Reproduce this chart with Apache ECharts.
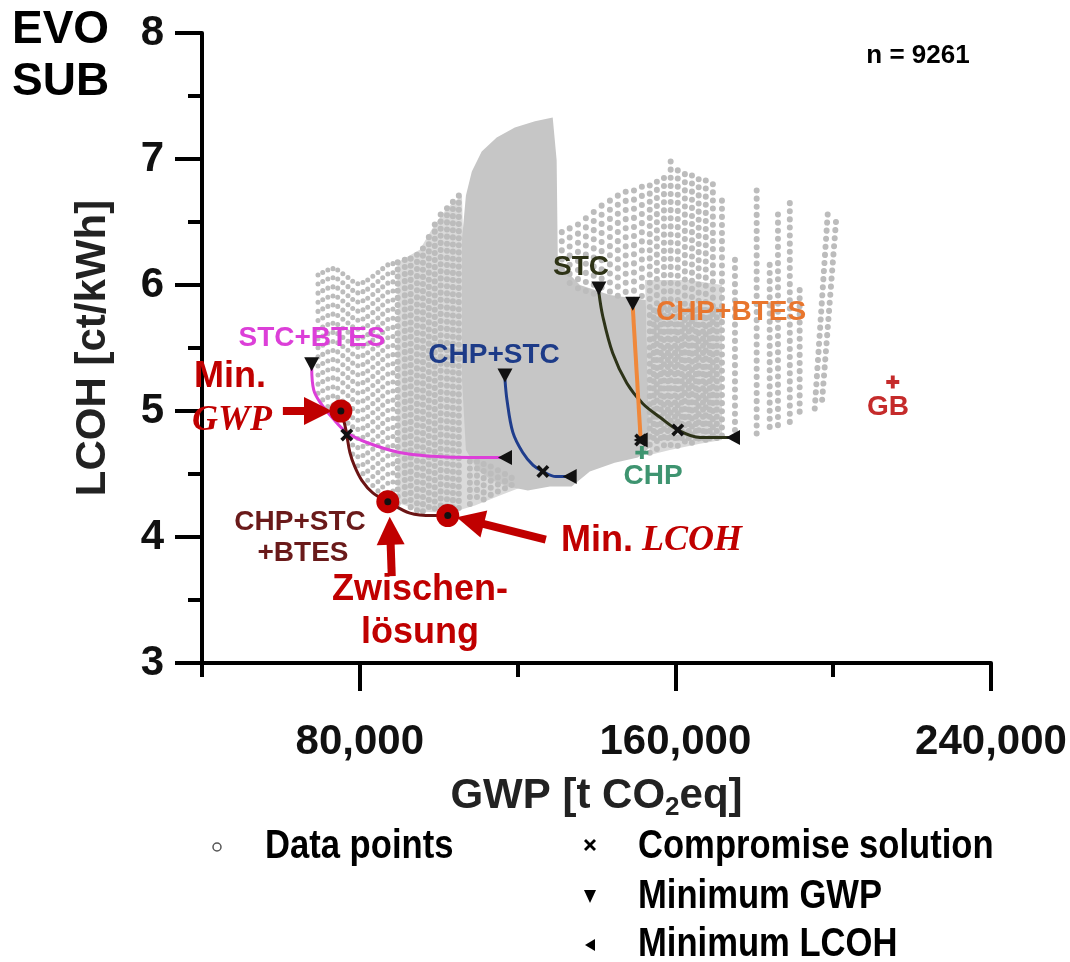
<!DOCTYPE html>
<html>
<head>
<meta charset="utf-8">
<script src="https://cdn.jsdelivr.net/npm/echarts@6/dist/echarts.min.js"></script>
<style>
  html, body { margin: 0; padding: 0; background: #fff; }
  #chart { width: 1070px; height: 962px; }
</style>
</head>
<body>
<div id="chart"></div>
<script>
// Pareto fronts, [GWP t CO2eq, LCOH ct/kWh]
const frontStcBtes = [[67800, 5.34], [68300, 5.17], [69900, 5.07], [73200, 4.94], [76700, 4.83], [81800, 4.75], [90100, 4.67], [98500, 4.64], [107900, 4.63], [116800, 4.63]];
const frontChpStcBtes = [[75200, 5.00], [76200, 4.89], [76700, 4.81], [77500, 4.67], [78700, 4.56], [80500, 4.45], [83300, 4.35], [87100, 4.28], [92700, 4.19], [98500, 4.17], [102300, 4.17]];
const frontChpStc = [[116800, 5.25], [117300, 5.09], [118800, 4.83], [121300, 4.67], [123900, 4.57], [126400, 4.52], [129700, 4.48], [133200, 4.48]];
const frontStc = [[140600, 5.94], [141600, 5.75], [144100, 5.46], [147700, 5.22], [151700, 5.06], [156100, 4.95], [160600, 4.85], [166200, 4.79], [174600, 4.79]];
const frontChpBtes = [[149200, 5.82], [151200, 4.77]];

// marked solutions
const minGwpPts = [[67800, 5.34], [116800, 5.25], [140600, 5.94], [149200, 5.82]];
const minLcohPts = [[116800, 4.63], [133200, 4.48], [174600, 4.79], [151200, 4.77]];
const compromisePts = [[76700, 4.81], [126400, 4.52], [160600, 4.85], [151200, 4.77]];
const highlightPts = [[75200, 5.00], [87100, 4.28], [102300, 4.17]]; // Min GWP, Zwischenlösung, Min LCOH
const chpRef = [[151500, 4.67]];
const gbRef = [[215100, 5.23]];

// arrows (tail, head)
const arrows = [
  [[60500, 5.00], [69400, 5.00]],
  [[88100, 3.69], [87700, 4.05]],
  [[127150, 3.98], [108000, 4.13]]
];

// cloud of data points: dense / medium areas and strands of single points
const cloudCore = [[105900, 6.36], [106900, 6.71], [108400, 6.90], [110900, 7.06], [114700, 7.17], [119300, 7.25], [124400, 7.30], [128900, 7.33], [129900, 6.99], [130200, 6.18], [135800, 6.00], [143400, 5.92], [152500, 5.88], [153000, 5.25], [153500, 4.71], [150500, 4.63], [144600, 4.59], [138300, 4.52], [133700, 4.40], [128200, 4.40], [122600, 4.37], [117500, 4.40], [113500, 4.45], [109900, 4.53], [106900, 4.69], [105900, 5.25]];
const cloudMediumLeft = [[89600, 6.18], [95200, 6.28], [99000, 6.48], [102100, 6.61], [105900, 6.71], [106600, 5.88], [107900, 4.61], [115500, 4.47], [120600, 4.39], [115500, 4.33], [109200, 4.25], [102800, 4.19], [96500, 4.20], [89600, 4.27]];
const cloudMediumRight = [[152300, 6.04], [156000, 6.04], [163700, 6.04], [171800, 6.00], [171800, 4.77], [166200, 4.74], [158600, 4.69], [153500, 4.65]];
const cloudLeft = [
  [[69400, 6.08], [69400, 5.13]], [[70600, 6.10], [70600, 5.05]], [[71900, 6.12], [71900, 5.01]],
  [[73200, 6.13], [73200, 4.96]], [[74400, 6.12], [74400, 4.94]], [[75700, 6.09], [75700, 4.89]],
  [[77000, 6.06], [77000, 4.79]], [[78200, 6.03], [78200, 4.61]], [[79500, 6.01], [79500, 4.53]],
  [[80800, 6.02], [80800, 4.46]], [[82000, 6.04], [82000, 4.41]], [[83300, 6.07], [83300, 4.37]],
  [[84600, 6.10], [84600, 4.35]], [[85800, 6.13], [85800, 4.32]], [[87100, 6.16], [87100, 4.31]],
  [[88400, 6.17], [88400, 4.28]]
];
const cloudMid = [
  [[89600, 6.18], [89600, 4.26]], [[91400, 6.20], [91400, 4.24]], [[92900, 6.21], [92900, 4.22]],
  [[94500, 6.24], [94500, 4.21]], [[96000, 6.29], [96000, 4.20]], [[97500, 6.38], [97500, 4.19]],
  [[99000, 6.48], [99000, 4.18]], [[100500, 6.56], [100500, 4.18]], [[102100, 6.61], [102100, 4.18]],
  [[103600, 6.66], [103600, 4.19]], [[105100, 6.71], [105100, 4.21]]
];
const cloudLow = [
  [[107900, 4.60], [107900, 4.25]], [[109700, 4.60], [109700, 4.27]], [[111400, 4.58], [111400, 4.29]],
  [[113200, 4.56], [113200, 4.31]], [[115000, 4.53], [115000, 4.33]], [[116800, 4.50], [116800, 4.35]],
  [[118500, 4.47], [118500, 4.37]]
];
const cloudTop = [
  [[131200, 6.42], [131200, 6.08]], [[133200, 6.45], [133200, 6.00]], [[135300, 6.48], [135300, 5.96]],
  [[137300, 6.53], [137300, 5.94]], [[139300, 6.58], [139300, 5.93]], [[141300, 6.63], [141300, 5.91]],
  [[143400, 6.67], [143400, 5.90]], [[145400, 6.71], [145400, 5.90]], [[147400, 6.74], [147400, 5.89]],
  [[149500, 6.75], [149500, 5.88]], [[151500, 6.78], [151500, 5.88]]
];
const cloudRight = [
  [[153500, 6.79], [153500, 4.65]], [[155300, 6.82], [155300, 4.67]], [[157100, 6.85], [157100, 4.69]],
  [[158800, 6.98], [158800, 4.71]], [[160600, 6.91], [160600, 4.71]], [[162400, 6.88], [162400, 4.72]],
  [[164200, 6.87], [164200, 4.73]], [[165900, 6.84], [165900, 4.74]], [[167700, 6.83], [167700, 4.75]],
  [[169500, 6.80], [169500, 4.75]], [[171800, 6.67], [171800, 4.77]], [[175100, 6.20], [175100, 4.79]],
  [[180600, 6.75], [180600, 4.82]], [[183900, 6.16], [183900, 4.85]], [[186000, 6.56], [186000, 4.87]],
  [[189000, 6.65], [189000, 4.90]], [[191500, 5.96], [191500, 4.94]], [[198600, 6.56], [195300, 5.01]],
  [[200700, 6.50], [197100, 5.05]]
];
const cloudRightFill = [
  [[154500, 5.80], [154500, 4.77]], [[156300, 5.80], [156300, 4.77]], [[158100, 5.80], [158100, 4.77]],
  [[159900, 5.80], [159900, 4.77]], [[161600, 5.80], [161600, 4.77]], [[163400, 5.80], [163400, 4.77]],
  [[165200, 5.80], [165200, 4.77]], [[167000, 5.80], [167000, 4.77]], [[168700, 5.80], [168700, 4.77]],
  [[170500, 5.80], [170500, 4.77]]
];

const xTicksMajor = [80000, 160000, 240000];
const xTicksMinor = [40000, 120000, 200000];

const SANS = '"Liberation Sans", Arial, sans-serif';
const SERIF = '"Liberation Serif", "Times New Roman", serif';
const RED = '#c00000';
const DOT = '#bcbcbc';

const chart = echarts.init(document.getElementById('chart'));

function dotted(strands, gap, width) {
  return {
    type: 'lines', coordinateSystem: 'cartesian2d', polyline: true, silent: true, z: 2,
    data: strands.map(s => ({ coords: s })),
    lineStyle: { color: DOT, width: width || 6, type: [0.1, gap], cap: 'round', opacity: 1 }
  };
}

function area(points, fill) {
  return {
    type: 'custom', silent: true, z: 1, data: points,
    renderItem: function (params, api) {
      if (params.dataIndex !== 0) return null;
      return {
        type: 'polygon',
        shape: { points: points.map(p => api.coord(p)) },
        style: { fill: fill }
      };
    }
  };
}

function front(data, color, width) {
  return {
    type: 'line', data: data, smooth: 0.35, showSymbol: false, silent: true, z: 5,
    lineStyle: { color: color, width: width }
  };
}

function marks(data, symbol, size, color, extra) {
  return Object.assign({
    type: 'scatter', data: data, symbol: symbol, symbolSize: size, silent: true, z: 7,
    itemStyle: { color: color, opacity: 1 }
  }, extra || {});
}

function txt(text, x, y, color, font, align, sx) {
  return {
    type: 'text', x: x, y: y, z: 100, silent: true, scaleX: sx || 1,
    style: { text: text, fill: color, font: font, align: align || 'center', verticalAlign: 'middle' }
  };
}

const crossPath = 'path://M0,2L2,0L5,3L8,0L10,2L7,5L10,8L8,10L5,7L2,10L0,8L3,5Z';
const plusPath = 'path://M3.5,0H6.5V3.5H10V6.5H6.5V10H3.5V6.5H0V3.5H3.5Z';
const LEG = 'bold 40px ' + SANS;
const LEG_SX = 0.865;

const option = {
  animation: false,
  backgroundColor: '#fff',
  grid: { left: 202, right: 79, top: 33, bottom: 299 },
  xAxis: [{
    type: 'value', min: 40000, max: 240000, interval: 40000,
    name: '{a|GWP [t CO}{b|2}{a|eq]}', nameLocation: 'middle', nameGap: 108,
    nameTextStyle: {
      rich: {
        a: { fontFamily: SANS, fontWeight: 'bold', fontSize: 42, color: '#222', lineHeight: 50 },
        b: { fontFamily: SANS, fontWeight: 'bold', fontSize: 26, color: '#222', lineHeight: 26, verticalAlign: 'bottom' }
      }
    },
    splitLine: { show: false },
    axisLine: { lineStyle: { color: '#000', width: 4 } },
    axisTick: { customValues: xTicksMinor, length: 14, lineStyle: { color: '#000', width: 4 } },
    axisLabel: {
      customValues: xTicksMajor, margin: 58, color: '#111',
      fontFamily: SANS, fontWeight: 'bold', fontSize: 42,
      formatter: v => v.toLocaleString('en-US')
    }
  }, {
    type: 'value', min: 40000, max: 240000, interval: 40000, position: 'bottom', offset: 0,
    splitLine: { show: false },
    axisLine: { show: false },
    axisLabel: { show: false },
    axisTick: { customValues: xTicksMajor, length: 28, lineStyle: { color: '#000', width: 4 } }
  }],
  yAxis: {
    type: 'value', min: 3, max: 8, interval: 1,
    name: 'LCOH [ct/kWh]', nameLocation: 'middle', nameGap: 88, nameRotate: 90,
    nameTextStyle: { fontFamily: SANS, fontWeight: 'bold', fontSize: 42, color: '#222' },
    splitLine: { show: false },
    axisLine: { show: true, lineStyle: { color: '#000', width: 4 } },
    axisTick: { show: true, length: 27, lineStyle: { color: '#000', width: 4 } },
    minorTick: { show: true, splitNumber: 2, length: 14, lineStyle: { color: '#000', width: 4 } },
    axisLabel: { margin: 38, color: '#111', fontFamily: SANS, fontWeight: 'bold', fontSize: 42 }
  },
  series: [
    area(cloudMediumLeft, '#dadada'),
    area(cloudMediumRight, '#d9d9d9'),
    area(cloudCore, '#c6c6c6'),
    dotted(cloudLeft, 9, 5),
    dotted(cloudMid, 7),
    dotted(cloudLow, 7),
    dotted(cloudTop, 9),
    dotted(cloudRight, 8),
    dotted(cloudRightFill, 7),
    front(frontStcBtes, '#dc3fd8', 3),
    front(frontChpStcBtes, '#6b1414', 3),
    front(frontChpStc, '#1f3d8c', 3),
    front(frontStc, '#2d3318', 3),
    front(frontChpBtes, '#f0883a', 4),
    marks(minGwpPts, 'triangle', [15, 14], '#111', { symbolRotate: 180, symbolOffset: [0, -4] }),
    marks(minLcohPts, 'triangle', [15, 14], '#111', { symbolRotate: 90 }),
    marks(compromisePts, crossPath, 13, '#111'),
    marks(chpRef, plusPath, 13, '#3e9470'),
    marks(gbRef, plusPath, 13, '#c52b2b'),
    {
      type: 'lines', coordinateSystem: 'cartesian2d', silent: true, z: 8,
      data: arrows.map(a => ({ coords: a })),
      symbol: ['none', 'triangle'], symbolSize: [26, 28],
      lineStyle: { color: RED, width: 8, opacity: 1 },
      itemStyle: { color: RED }
    },
    marks(highlightPts, 'circle', 23, RED, { z: 9 }),
    marks(highlightPts, 'circle', 7, '#111', { z: 10 })
  ],
  graphic: [
    txt('EVO', 12, 30, '#000', 'bold 46px ' + SANS, 'left'),
    txt('SUB', 12, 82, '#000', 'bold 46px ' + SANS, 'left'),
    txt('n = 9261', 918, 56, '#000', 'bold 26px ' + SANS),
    txt('STC+BTES', 312, 338, '#dc3fd8', 'bold 28px ' + SANS),
    txt('CHP+STC', 494, 355, '#1d3b88', 'bold 28px ' + SANS),
    txt('STC', 581, 267, '#2e3316', 'bold 28px ' + SANS),
    txt('CHP+BTES', 731, 312, '#e8762e', 'bold 28px ' + SANS),
    txt('CHP', 653, 476, '#3e9470', 'bold 28px ' + SANS),
    txt('GB', 888, 407, '#c52b2b', 'bold 28px ' + SANS),
    txt('CHP+STC', 300, 522, '#6a1a1a', 'bold 28px ' + SANS),
    txt('+BTES', 303, 553, '#6a1a1a', 'bold 28px ' + SANS),
    txt('Min.', 230, 377, RED, 'bold 36px ' + SANS),
    txt('GWP', 232, 421, RED, 'italic bold 36px ' + SERIF),
    txt('Min.', 597, 541, RED, 'bold 36px ' + SANS),
    txt('LCOH', 692, 541, RED, 'italic bold 36px ' + SERIF),
    txt('Zwischen-', 420, 590, RED, 'bold 36px ' + SANS),
    txt('lösung', 420, 633, RED, 'bold 36px ' + SANS),
    { type: 'circle', z: 100, silent: true, shape: { cx: 217, cy: 847, r: 4 }, style: { fill: '#fff', stroke: '#555', lineWidth: 1.5 } },
    txt('Data points', 265, 847, '#000', LEG, 'left', LEG_SX),
    { type: 'polygon', z: 100, silent: true, shape: { points: [[584, 841], [586, 839], [590, 843], [594, 839], [596, 841], [592, 845], [596, 849], [594, 851], [590, 847], [586, 851], [584, 849], [588, 845]] }, style: { fill: '#000' } },
    txt('Compromise solution', 638, 847, '#000', LEG, 'left', LEG_SX),
    { type: 'polygon', z: 100, silent: true, shape: { points: [[584, 890], [596, 890], [590, 903]] }, style: { fill: '#000' } },
    txt('Minimum GWP', 638, 897, '#000', LEG, 'left', LEG_SX),
    { type: 'polygon', z: 100, silent: true, shape: { points: [[595, 939], [595, 951], [585, 945]] }, style: { fill: '#000' } },
    txt('Minimum LCOH', 638, 945, '#000', LEG, 'left', LEG_SX)
  ]
};

chart.setOption(option);
</script>
</body>
</html>
